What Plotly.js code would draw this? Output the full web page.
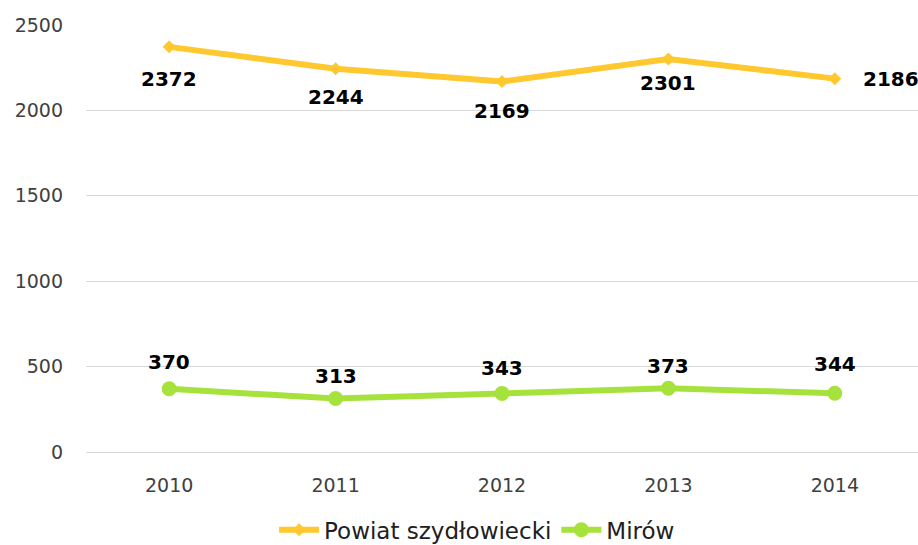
<!DOCTYPE html>
<html>
<head>
<meta charset="utf-8">
<script src="https://cdn.plot.ly/plotly-3.0.1.min.js"></script>
<style>
  html, body { margin: 0; padding: 0; background: #fff; }
  #chart { width: 918px; height: 545px; }
</style>
</head>
<body>
<div id="chart"></div>
<script>
const years = ["2010", "2011", "2012", "2013", "2014"];
const powiat = [2372, 2244, 2169, 2301, 2186];
const mirow = [370, 313, 343, 373, 344];

// label offsets (px): yellow below the points (last one to the right), green above
const powiatDx = [0, 0, 0, 0, 56];
const powiatDy = [-32, -28, -29, -24, 0];
const mirowDy = [27, 23, 25, 22, 29];

const labelFont = { family: "DejaVu Sans", size: 20, color: "#000", weight: "bold" };

const tracePowiat = {
  x: years,
  y: powiat,
  name: "Powiat szydłowiecki",
  type: "scatter",
  mode: "lines+markers",
  line: { color: "#ffc82e", width: 6 },
  marker: { symbol: "diamond", size: 10, color: "#ffc82e" },
  cliponaxis: false
};

const traceMirow = {
  x: years,
  y: mirow,
  name: "Mirów",
  type: "scatter",
  mode: "lines+markers",
  line: { color: "#a6e23c", width: 6 },
  marker: { symbol: "circle", size: 15, color: "#a6e23c" },
  cliponaxis: false
};

// category axis: annotations take the category index
const annotations = [];
years.forEach((yr, i) => {
  annotations.push({
    x: i, y: powiat[i], text: String(powiat[i]),
    showarrow: false, xshift: powiatDx[i], yshift: powiatDy[i],
    font: labelFont
  });
  annotations.push({
    x: i, y: mirow[i], text: String(mirow[i]),
    showarrow: false, yshift: mirowDy[i],
    font: labelFont
  });
});

const layout = {
  width: 918,
  height: 545,
  margin: { l: 86, r: 0, t: 25, b: 93 },
  paper_bgcolor: "#fff",
  plot_bgcolor: "#fff",
  font: { family: "DejaVu Sans", color: "#404040", size: 19 },
  xaxis: {
    type: "category",
    range: [-0.5, 4.5],
    showgrid: false,
    showline: false,
    ticks: "",
    ticklabelstandoff: 20,
    tickfont: { size: 19, color: "#404040" }
  },
  yaxis: {
    range: [0, 2500],
    dtick: 500,
    showgrid: true,
    gridcolor: "#d9d9d9",
    gridwidth: 1,
    zeroline: true,
    zerolinecolor: "#d9d9d9",
    zerolinewidth: 1,
    showline: false,
    ticks: "",
    ticklabelstandoff: 22,
    tickfont: { size: 19, color: "#404040" }
  },
  annotations: annotations,
  showlegend: true,
  legend: {
    orientation: "h",
    x: 0.47,
    xanchor: "center",
    yref: "container",
    y: 0.028,
    yanchor: "middle",
    font: { size: 23, color: "#202020" },
    itemwidth: 40
  }
};

Plotly.newPlot("chart", [tracePowiat, traceMirow], layout, { displayModeBar: false });
</script>
</body>
</html>
